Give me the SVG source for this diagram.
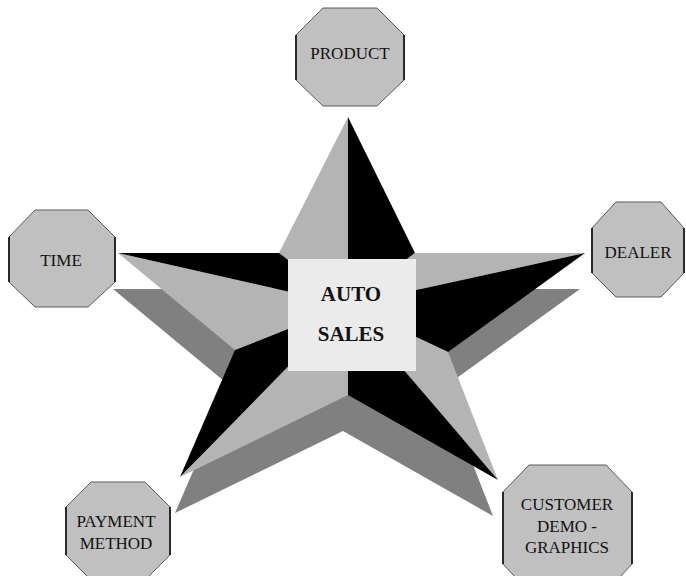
<svg xmlns="http://www.w3.org/2000/svg" width="686" height="576" viewBox="0 0 686 576">
<style>
.oct{fill:#c0c0c0;stroke:#5a5a5a;stroke-width:1}
.side{stroke:#2a2a2a;stroke-width:2}
.lt{fill:#b4b4b4}
.bk{fill:#000000}
.sh{fill:#808080}
.lbl{font-family:"Liberation Serif","Times New Roman",serif;font-size:17px;fill:#111;text-anchor:middle}
.ctr{font-family:"Liberation Serif","Times New Roman",serif;font-size:21px;font-weight:bold;fill:#111;text-anchor:middle}
</style>
<rect width="686" height="576" fill="#ffffff"/>
<g id="star">
<polygon class="sh" transform="translate(-5,36)" points="348,117 415,253 585,253 448,352 498,480 348,395 180,477 235,350 118,253 279,253"/>
<polygon class="lt" points="279,253 348,117 348,305"/>
<polygon class="bk" points="348,117 415,253 348,305"/>
<polygon class="lt" points="415,253 585,253 348,305"/>
<polygon class="bk" points="585,253 448,352 348,305"/>
<polygon class="lt" points="448,352 498,480 348,305"/>
<polygon class="bk" points="498,480 348,395 348,305"/>
<polygon class="lt" points="348,395 180,477 348,305"/>
<polygon class="bk" points="180,477 235,350 348,305"/>
<polygon class="lt" points="235,350 118,253 348,305"/>
<polygon class="bk" points="118,253 279,253 348,305"/>
</g>
<g id="connectors"></g>
<g id="auto-sales">
<rect x="288" y="259" width="128" height="112" fill="#ebebeb"/>
<text class="ctr" x="351" y="301">AUTO</text>
<text class="ctr" x="351" y="341">SALES</text>
</g>
<g id="product">
<polygon class="oct" points="323,8 377,8 404,35 404,80 377,106 323,106 296,80 296,35"/>
<line class="side" x1="296" y1="35" x2="296" y2="80"/>
<line class="side" x1="404" y1="35" x2="404" y2="80"/>
<text class="lbl" x="350" y="59">PRODUCT</text>
</g>
<g id="time">
<polygon class="oct" points="35,210 88,210 115,237 115,282 88,307 35,307 9,282 9,237"/>
<line class="side" x1="9" y1="237" x2="9" y2="282"/>
<line class="side" x1="115" y1="237" x2="115" y2="282"/>
<text class="lbl" x="61" y="266">TIME</text>
</g>
<g id="dealer">
<polygon class="oct" points="616,202 661,202 684,228 684,273 661,297 616,297 592,273 592,228"/>
<line class="side" x1="592" y1="228" x2="592" y2="273"/>
<line class="side" x1="684" y1="228" x2="684" y2="273"/>
<text class="lbl" x="638" y="258">DEALER</text>
</g>
<g id="payment-method">
<polygon class="oct" points="91,482 145,482 170,507 170,555 145,580 91,580 66,555 66,507"/>
<line class="side" x1="66" y1="507" x2="66" y2="555"/>
<line class="side" x1="170" y1="507" x2="170" y2="555"/>
<text class="lbl" x="116" y="527">PAYMENT</text>
<text class="lbl" x="116" y="549">METHOD</text>
</g>
<g id="customer-demographics">
<polygon class="oct" points="529,465 606,465 632,492 632,564 606,592 529,592 503,564 503,492"/>
<line class="side" x1="503" y1="492" x2="503" y2="564"/>
<line class="side" x1="632" y1="492" x2="632" y2="564"/>
<text class="lbl" x="567" y="510">CUSTOMER</text>
<text class="lbl" x="567" y="532">DEMO -</text>
<text class="lbl" x="567" y="553">GRAPHICS</text>
</g>
</svg>
